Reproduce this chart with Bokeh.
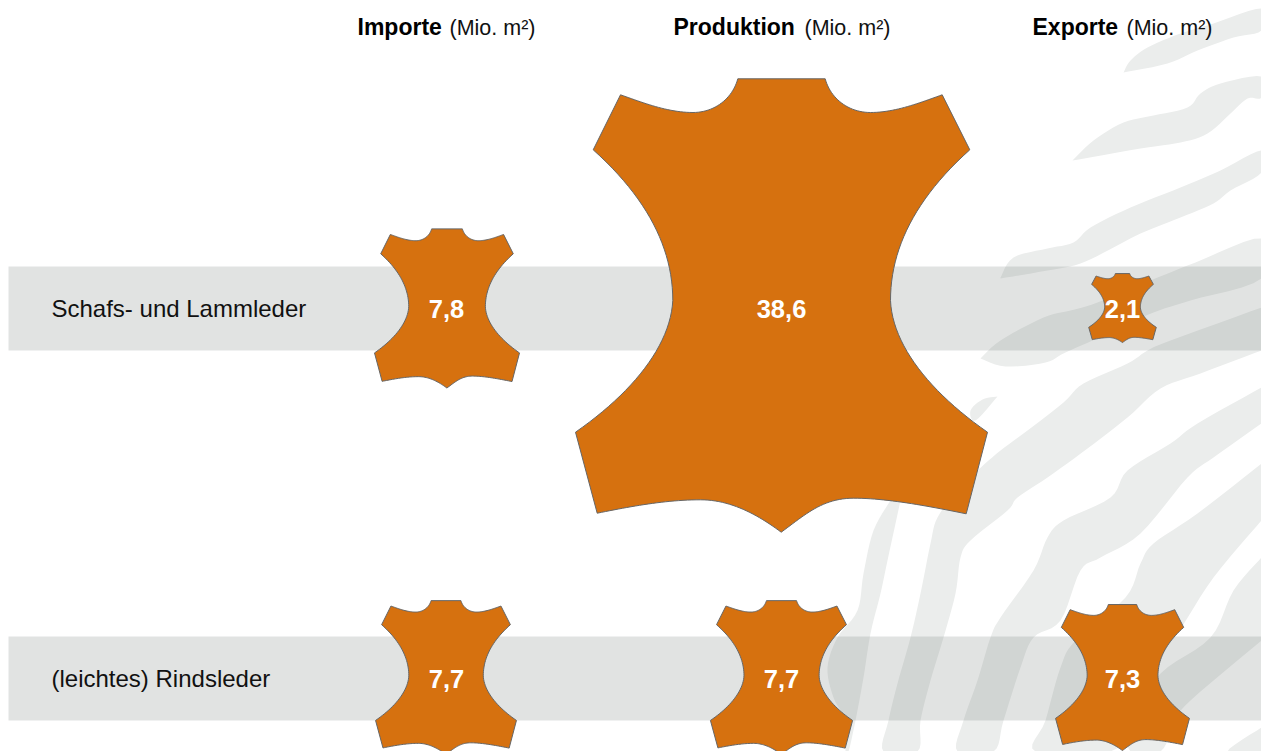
from bokeh.plotting import figure
from bokeh.models import Range1d, ColumnDataSource
from bokeh.core.properties import value
from bokeh.embed import file_html
from bokeh.resources import INLINE

# ---- data ----
columns = ["Importe", "Produktion", "Exporte"]
unit = "(Mio. m²)"
categories = ["Schafs- und Lammleder", "(leichtes) Rindsleder"]
importe = [7.8, 7.7]
produktion = [38.6, 7.7]
exporte = [2.1, 7.3]

# ---- layout (page pixels) ----
W, H = 1261, 751
FONT = "Liberation Sans"
ORANGE = "#D6710F"
col_x = [446, 781, 1122]
row_y = [308, 678]
band_half = 42
band_left = 8
# drawn width / height scale of each hide relative to the biggest, by [row][column]
hide_sx = [[0.352, 1.0, 0.164], [0.342, 0.345, 0.325]]
hide_sy = [[0.351, 1.0, 0.152], [0.339, 0.339, 0.322]]
hide_dx = [[0.5, 0, 0], [-0.5, 0, 0]]
hide_dy = [[1, 0, 0], [0, 0, 0]]


def smooth(pts, n=10):
    """Catmull-Rom through the points of one outline section."""
    if len(pts) < 3:
        return list(pts)
    out = []
    m = len(pts)
    for i in range(m - 1):
        p0 = pts[max(i - 1, 0)]
        p1, p2 = pts[i], pts[i + 1]
        p3 = pts[min(i + 2, m - 1)]
        for k in range(n):
            t = k / n
            out.append(tuple(
                0.5 * (2 * p1[d] + (p2[d] - p0[d]) * t
                       + (2 * p0[d] - 5 * p1[d] + 4 * p2[d] - p3[d]) * t * t
                       + (3 * p1[d] - p0[d] - 3 * p2[d] + p3[d]) * t ** 3)
                for d in (0, 1)))
    out.append(pts[-1])
    return out


def bezier(a, b, c, d, n=24):
    return [tuple((1 - t) ** 3 * a[i] + 3 * (1 - t) ** 2 * t * b[i] + 3 * (1 - t) * t * t * c[i] + t ** 3 * d[i]
                  for i in (0, 1)) for t in (k / n for k in range(n + 1))]


# outline of the hide symbol, traced on the biggest one (centre 781, 308): cubic pieces
HIDE_CURVES = [
    [(824.7, 78.3), (830, 98), (848, 112), (870, 112)],
    [(870, 112), (895, 112), (920, 102), (941.7, 94.3)],
    [(969.3, 149.3), (915, 198), (890, 248), (890, 300)],
    [(890, 300), (892, 345), (930, 392), (987, 431.7)],
    [(965.7, 513.3), (925, 505), (885, 497.7), (853.3, 497.7)],
    [(853.3, 497.7), (822, 497.7), (805, 514), (780.7, 531.7)],
    [(780.7, 531.7), (757, 514), (730, 499.3), (700, 499.3)],
    [(700, 499.3), (665, 499.3), (630, 506), (596.7, 512.7)],
    [(575, 431.7), (632, 392), (670, 345), (672.3, 300)],
    [(672.3, 300), (672.3, 248), (647, 198), (592.7, 149.3)],
    [(620, 94.3), (642, 102), (667, 112), (692.5, 112)],
    [(692.5, 112), (714, 112), (732, 98), (737.3, 78.3)],
]
hide_outline = []
for c in HIDE_CURVES:
    hide_outline += bezier(*c)
hide_outline = [(x - 781, y - 308) for x, y in hide_outline]

# soft zebra stripes of the backdrop
STRIPES = [
    [(1123, 72), (1130, 60), (1147, 47), (1180, 33), (1213, 23), (1261, 8), (1261, 30),
     (1233, 37), (1197, 50), (1167, 63), (1123, 72)],
    [(1072, 160), (1093, 140), (1123, 122), (1153, 115), (1187, 107), (1200, 93), (1220, 83),
     (1261, 76), (1261, 97), (1247, 98), (1230, 113), (1207, 133), (1180, 142), (1140, 148), (1072, 160)],
    [(1000, 277), (1013, 257), (1047, 248), (1073, 242), (1090, 227), (1130, 207), (1180, 187),
     (1220, 170), (1261, 150), (1261, 172), (1230, 190), (1213, 203), (1180, 217), (1140, 233),
     (1113, 247), (1080, 263), (1047, 270), (1000, 278)],
    [(980, 358), (1000, 340), (1043, 317), (1070, 310), (1097, 302), (1150, 280), (1195, 262),
     (1261, 238), (1261, 278), (1190, 300), (1153, 312), (1110, 332), (1065, 352), (1045, 362),
     (1005, 366), (980, 358)],
    [(1261, 307), (1170, 340), (1147, 350), (1127, 363), (1083, 383), (1063, 402), (1027, 430),
     (1000, 450), (977, 470), (957, 490), (937, 517), (930, 543), (920, 593), (910, 637),
     (897, 683), (888, 720), (883, 751), (917, 751), (920, 720), (930, 680), (943, 637),
     (955, 593), (960, 557), (970, 540), (1007, 510), (1017, 497), (1047, 477), (1087, 448),
     (1127, 417), (1160, 388), (1200, 373), (1261, 350)],
    [(1261, 387), (1197, 423), (1170, 443), (1127, 470), (1110, 497), (1063, 520), (1047, 537),
     (1033, 570), (1000, 617), (990, 637), (977, 680), (963, 720), (957, 751), (993, 751),
     (1003, 720), (1020, 667), (1033, 637), (1060, 620), (1080, 570), (1100, 557), (1140, 533),
     (1187, 477), (1213, 457), (1261, 423)],
    [(1261, 463), (1197, 513), (1153, 543), (1140, 563), (1125, 597), (1075, 640), (1060, 667),
     (1045, 720), (1035, 751), (1110, 751), (1130, 720), (1155, 660), (1177, 633), (1213, 577),
     (1261, 520)],
    [(1261, 557), (1233, 590), (1210, 637), (1160, 673), (1130, 720), (1130, 751), (1160, 751),
     (1175, 720), (1190, 700), (1261, 640)],
    [(1261, 727), (1227, 751), (1261, 751)],
    [(890, 500), (873, 530), (863, 573), (857, 610), (837, 637), (827, 667), (833, 697),
     (845, 720), (845, 751), (848, 751), (855, 720), (863, 677), (870, 633), (880, 593),
     (887, 560), (900, 500)],
    [(997, 396), (982, 399), (970, 410), (975, 420), (997, 396)],
]

p = figure(width=W, height=H, x_range=Range1d(0, W), y_range=Range1d(H, 0),
           output_backend="svg", toolbar_location=None, min_border=0,
           background_fill_color="white", border_fill_color="white")
p.axis.visible = False
p.grid.visible = False
p.outline_line_color = None

# backdrop
stripe_lines = [smooth(s, 6) for s in STRIPES]
p.patches([[q[0] for q in s] for s in stripe_lines], [[q[1] for q in s] for s in stripe_lines],
          fill_color="#EBEDEC", line_color=None)

# category bands
for y in row_y:
    p.quad(left=band_left, right=W, top=y - band_half, bottom=y + band_half,
           fill_color="#7D8581", fill_alpha=0.23, line_color=None)

# hides, one per value
rows = [[importe[i], produktion[i], exporte[i]] for i in range(len(categories))]
xs, ys, tx, ty, tt = [], [], [], [], []
for r, row in enumerate(rows):
    for c, val in enumerate(row):
        cx = col_x[c] + hide_dx[r][c]
        cy = row_y[r] + hide_dy[r][c]
        xs.append([cx + hide_sx[r][c] * q[0] for q in hide_outline])
        ys.append([cy + hide_sy[r][c] * q[1] for q in hide_outline])
        tx.append(col_x[c])
        ty.append(row_y[r])
        tt.append(f"{val:.1f}".replace(".", ","))
p.patches(xs, ys, fill_color=ORANGE, line_color="#666666", line_width=1)
p.text(x="x", y="y", text="t", source=ColumnDataSource(dict(x=tx, y=ty, t=tt)),
       text_font=value(FONT), text_font_style="bold", text_font_size="25.5px",
       text_color="white", text_align="center", text_baseline="middle")

# category labels
p.text(x=[51, 51], y=row_y, text=categories, text_font=value(FONT), text_font_size="24px",
       text_color="#111111", text_align="left", text_baseline="middle")

# column headers
head_x = [357, 673, 1032]
unit_x = [449, 804, 1126]
p.text(x=head_x, y=[26] * 3, text=columns, text_font=value(FONT), text_font_style="bold",
       text_font_size="23px", text_color="#000000", text_align="left", text_baseline="middle")
p.text(x=unit_x, y=[27] * 3, text=[unit] * 3, text_font=value(FONT), text_font_size="21.5px",
       text_color="#111111", text_align="left", text_baseline="middle")

open("out.html", "w").write(file_html(p, INLINE))
